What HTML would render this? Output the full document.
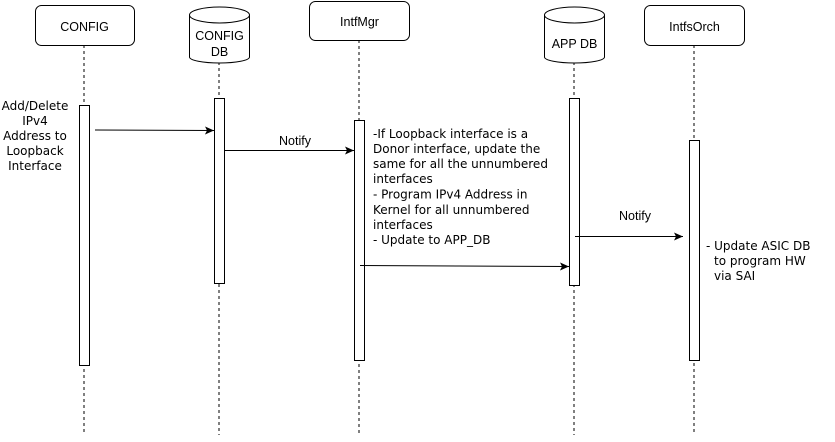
<!DOCTYPE html>
<html><head><style>body{margin:0;background:#fff}</style></head><body>
<svg width="835" height="437" xmlns="http://www.w3.org/2000/svg">
<defs><marker id="a" markerWidth="10" markerHeight="8" refX="9" refY="4" orient="auto" markerUnits="userSpaceOnUse"><path d="M0,0 L9,4 L0,8 L2,4 z" fill="#000"/></marker></defs>
<g stroke="#000" stroke-dasharray="3,3" fill="none">
<line x1="84" y1="45" x2="84" y2="435"/><line x1="219" y1="62" x2="219" y2="435"/><line x1="359" y1="40" x2="359" y2="435"/><line x1="574" y1="62" x2="574" y2="435"/><line x1="694" y1="45" x2="694" y2="435"/>
</g>
<g stroke="#000" fill="#fff">
<rect x="35.5" y="5.5" width="99" height="40" rx="6"/>
<rect x="309.5" y="1.5" width="100" height="39" rx="6"/>
<rect x="644.5" y="5.5" width="100" height="40" rx="6"/>
<path d="M189.5,15 v42 a30,6 0 0 0 60,0 v-42"/><ellipse cx="219.5" cy="15" rx="30" ry="8"/>
<path d="M544.5,15 v42 a30,6 0 0 0 60,0 v-42"/><ellipse cx="574.5" cy="15" rx="30" ry="8"/>
<rect x="79.5" y="105.5" width="10" height="260"/>
<rect x="214.5" y="98.5" width="10" height="185"/>
<rect x="354.5" y="120.5" width="10" height="240"/>
<rect x="569.5" y="98.5" width="10" height="187"/>
<rect x="689.5" y="140.5" width="10" height="220"/>
</g>
<g stroke="#000" marker-end="url(#a)">
<line x1="95" y1="130" x2="214" y2="130.5"/>
<line x1="224" y1="150.5" x2="354" y2="150.5"/>
<line x1="360" y1="265.5" x2="569" y2="266.5"/>
<line x1="575" y1="236.5" x2="683" y2="236.5"/>
</g>
<g font-family="Liberation Sans, Arial, sans-serif" font-size="12.5" text-anchor="middle">
<text x="84.5" y="31">CONFIG</text><text x="359.5" y="26">IntfMgr</text><text x="694.5" y="31">IntfsOrch</text>
<text x="219.5" y="40">CONFIG</text><text x="219.5" y="56">DB</text><text x="574.5" y="48">APP DB</text>
<text x="295" y="145">Notify</text><text x="635" y="220">Notify</text>
</g>
<g font-family="DejaVu Sans, Verdana, sans-serif" font-size="12">
<g text-anchor="middle"><text x="35" y="110">Add/Delete</text><text x="35" y="125">IPv4</text><text x="35" y="140">Address to</text><text x="35" y="155">Loopback</text><text x="35" y="170">Interface</text></g>
<text x="373" y="138">-If Loopback interface is a</text>
<text x="373" y="153">Donor interface, update the</text>
<text x="373" y="168">same for all the unnumbered</text>
<text x="373" y="183">interfaces</text>
<text x="373" y="198.5">- Program IPv4 Address in</text>
<text x="373" y="214">Kernel for all unnumbered</text>
<text x="373" y="229">interfaces</text>
<text x="373" y="244">- Update to APP_DB</text>
<text x="706" y="250">- Update ASIC DB</text>
<text x="714" y="265">to program HW</text>
<text x="714" y="280">via SAI</text>
</g>
</svg>
</body></html>
